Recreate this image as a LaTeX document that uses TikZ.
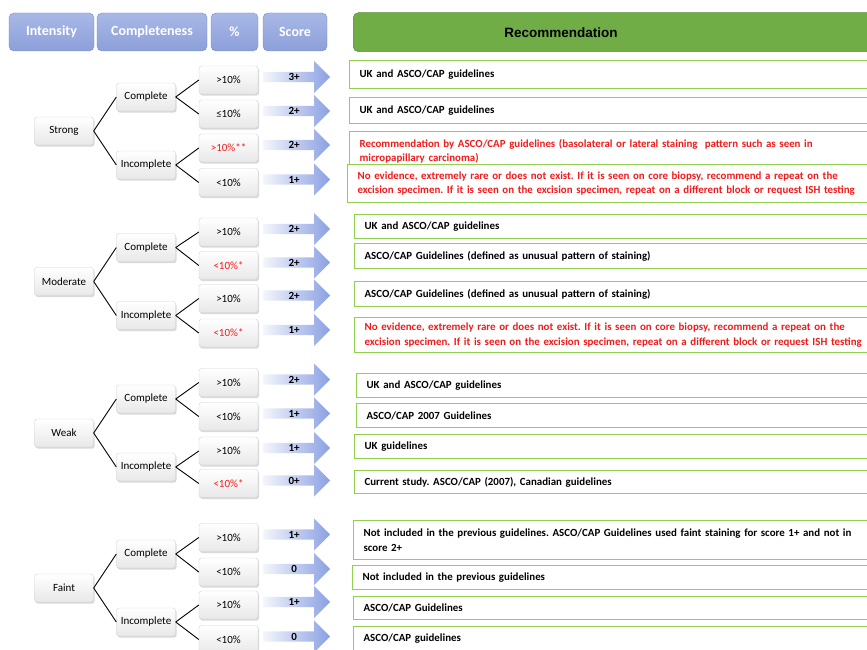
\documentclass[tikz,border=0pt]{standalone}
\usepackage{fontspec}
\setmainfont{Carlito}
\newfontfamily\arialfont{Liberation Sans}
\usepackage{xcolor}
\usepackage{tikz}
\usetikzlibrary{
	shapes.arrows,shadows
}
\frenchspacing
\definecolor{headtop}{HTML}{A8B8E6}
\definecolor{headbot}{HTML}{8C9FDA}
\definecolor{headedge}{HTML}{7389CF}
\definecolor{recfill}{HTML}{70AD47}
\definecolor{recedge}{HTML}{5B8E3A}
\definecolor{recline}{HTML}{92D050}
\definecolor{arrowblue}{HTML}{8AA0E2}
\definecolor{stopred}{HTML}{F21B1B}

\tikzset{
	headbox/.style={draw=headedge,rounded corners=5pt,top color=headtop,bottom color=headbot,
		text=white,font=\fontsize{14}{16}\selectfont\bfseries,minimum height=38pt,inner sep=0pt},
	treebox/.style={draw=black!18,rounded corners=2.5pt,top color=white,bottom color=black!9,
		drop shadow={shadow xshift=1pt,shadow yshift=-1.6pt,opacity=0.3},
		minimum width=59pt,minimum height=28pt,inner sep=0pt,font=\fontsize{11}{13}\selectfont},
	scorearrow/.style={single arrow,single arrow head extend=8pt,single arrow tip angle=90,
		minimum width=32pt,minimum height=67pt,inner sep=0pt,left color=white!90!arrowblue,right color=arrowblue,
		anchor=tail,font=\fontsize{11}{13}\selectfont\bfseries},
	recbox/.style={draw=recline,line width=1.2pt,fill=white,anchor=north west,text width=530pt,
		inner xsep=10pt,inner ysep=0pt,align=left,font=\fontsize{10.9}{14.5}\selectfont\bfseries},
	branch/.style={line width=0.9pt}
}

\begin{document}
\begin{tikzpicture}[x=1pt,y=-1pt]
\useasboundingbox (0,0) rectangle (867,650);
\clip (0,0) rectangle (867,650);
%
\node[headbox,minimum width=85pt] (hint) at (51.5,32) {Intensity};
\node[headbox,minimum width=110pt] (hcom) at (152,32) {Completeness};
\node[headbox,minimum width=47pt] (hpct) at (234.5,32) {\%};
\node[headbox,minimum width=64pt] (hsco) at (295,32) {Score};
\node[draw=recedge,fill=recfill,rounded corners=5pt,anchor=north west,minimum width=540pt,
	minimum height=39pt] (hrec) at (353,12.5) {};
\node[font=\arialfont\fontsize{13.5}{15}\selectfont\bfseries] (hrect) at ([xshift=208pt]hrec.west) {Recommendation};
%
\foreach \g/\y/\t in {s/131/Strong,m/281.5/Moderate,w/433/Weak,f/588/Faint}{
	\node[treebox] (\g) at (64,\y) {\t};
	\node[treebox] (\g c) at (146,\y-34) {Complete};
	\node[treebox] (\g i) at (146,\y+34) {Incomplete};
}
%
\foreach \n/\y/\p/\s in {s1/80/{>10\%}/3+,s2/114/{≤10\%}/2+,s3/148/{\textcolor{stopred}{>10\%**}}/2+,s4/182.5/{<10\%}/1+,
	m1/232/{>10\%}/2+,m2/265.5/{\textcolor{stopred}{<10\%*}}/2+,m3/298.5/{>10\%}/2+,m4/333/{\textcolor{stopred}{<10\%*}}/1+,
	w1/382.5/{>10\%}/2+,w2/416.5/{<10\%}/1+,w3/451/{>10\%}/1+,w4/483.5/{\textcolor{stopred}{<10\%*}}/0+,
	f1/537.5/{>10\%}/1+,f2/572/{<10\%}/0,f3/605/{>10\%}/1+,f4/639.5/{<10\%}/0}{
	\node[treebox] (\n) at (228.5,\y) {\p};
	\node[scorearrow] (\n a) at (263,\y-3) {\s\hspace{6pt}};
}
%
\foreach \g in {s,m,w,f}{
	\draw[branch] (\g.east) -- (\g c.west);
	\draw[branch] (\g.east) -- (\g i.west);
	\draw[branch] (\g c.east) -- (\g1.west);
	\draw[branch] (\g c.east) -- (\g2.west);
	\draw[branch] (\g i.east) -- (\g3.west);
	\draw[branch] (\g i.east) -- (\g4.west);
}
%
\node[recbox,minimum height=28pt] (r1) at (349,60) {UK and ASCO/CAP guidelines};
\node[recbox,minimum height=26pt] (r2) at (349,97) {UK and ASCO/CAP guidelines};
\node[recbox,minimum height=39pt,text=stopred] (r3) at (349,131) {Recommendation by ASCO/CAP guidelines (basolateral or lateral staining\ \ pattern such as seen in\\micropapillary carcinoma)};
\node[recbox,minimum height=38pt,text=stopred] (r4) at (347,164) {No evidence, extremely rare or does not exist. If it is seen on core biopsy, recommend a repeat on the\\excision specimen. If it is seen on the excision specimen, repeat on a different block or request ISH testing};
%
\node[recbox,minimum height=24pt] (r5) at (354,214) {UK and ASCO/CAP guidelines};
\node[recbox,minimum height=25pt] (r6) at (354,243) {ASCO/CAP Guidelines (defined as unusual pattern of staining)};
\node[recbox,minimum height=25pt] (r7) at (354,281) {ASCO/CAP Guidelines (defined as unusual pattern of staining)};
\node[recbox,minimum height=35pt,text=stopred] (r8) at (354,317) {No evidence, extremely rare or does not exist. If it is seen on core biopsy, recommend a repeat on the\\excision specimen. If it is seen on the excision specimen, repeat on a different block or request ISH testing};
%
\node[recbox,minimum height=24pt] (r9) at (356,373) {UK and ASCO/CAP guidelines};
\node[recbox,minimum height=24pt] (r10) at (356,403) {ASCO/CAP 2007 Guidelines};
\node[recbox,minimum height=24pt] (r11) at (354,434) {UK guidelines};
\node[recbox,minimum height=23pt] (r12) at (354,470) {Current study. ASCO/CAP (2007), Canadian guidelines};
%
\node[recbox,minimum height=39pt] (r13) at (353,520) {Not included in the previous guidelines. ASCO/CAP Guidelines used faint staining for score 1+ and not in\\score 2+};
\node[recbox,minimum height=24pt] (r14) at (352,565) {Not included in the previous guidelines};
\node[recbox,minimum height=23pt] (r15) at (353,596) {ASCO/CAP Guidelines};
\node[recbox,minimum height=24pt] (r16) at (353,626) {ASCO/CAP guidelines};
\end{tikzpicture}
\end{document}
